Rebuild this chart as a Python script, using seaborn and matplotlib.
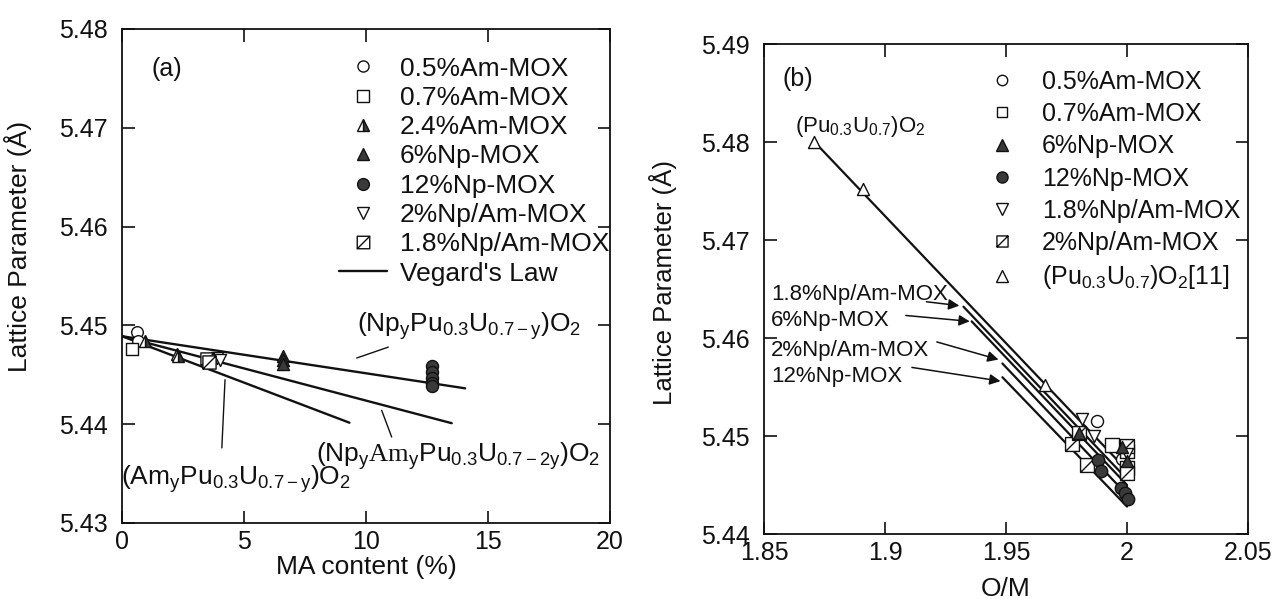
import numpy as np
import pandas as pd
import matplotlib
matplotlib.use("Agg")
import matplotlib.pyplot as plt
import seaborn as sns
from matplotlib.path import Path
from matplotlib.lines import Line2D

# ---------------- data: panel (a) -----------------
a_am05_x = [0.60, 0.67]
a_am05_y = [5.4493, 5.4484]
a_am07_x = [0.40]
a_am07_y = [5.4476]
a_am24_x = [0.94, 2.24, 2.30]
a_am24_y = [5.4484, 5.4471, 5.4469]
a_np6_x = [6.61, 6.61, 6.61]
a_np6_y = [5.4469, 5.4465, 5.4461]
a_np12_x = [12.69, 12.69, 12.69, 12.69, 12.69]
a_np12_y = [5.4459, 5.4453, 5.4447, 5.4442, 5.4439]
a_npam2_x = [3.88, 4.02]
a_npam2_y = [5.4467, 5.4465]
a_npam18_x = [3.47, 3.55]
a_npam18_y = [5.4466, 5.4463]

vegard_np_x = [0.0, 14.06]
vegard_np_y = [5.4489, 5.44363]
vegard_npam_x = [0.0, 13.51]
vegard_npam_y = [5.4489, 5.4401]
vegard_am_x = [0.0, 9.32]
vegard_am_y = [5.4489, 5.44015]

a_xticks = [0, 5, 10, 15, 20]
a_xticklabels = ["0", "5", "10", "15", "20"]
a_yticks = [5.43, 5.44, 5.45, 5.46, 5.47, 5.48]
a_yticklabels = ["5.43", "5.44", "5.45", "5.46", "5.47", "5.48"]

a_labels = ["0.5%Am-MOX", "0.7%Am-MOX", "2.4%Am-MOX", "6%Np-MOX",
            "12%Np-MOX", "2%Np/Am-MOX", "1.8%Np/Am-MOX", "Vegard's Law"]

# ---------------- data: panel (b) -----------------
b_am05_x = [1.9875, 1.998]
b_am05_y = [5.4515, 5.4477]
b_am07_x = [1.9937, 2.0, 2.0]
b_am07_y = [5.4491, 5.4485, 5.4467]
b_np6_x = [1.9803, 1.998, 2.0]
b_np6_y = [5.4503, 5.4489, 5.4475]
b_np12_x = [1.9881, 1.9891, 1.9975, 1.9992, 2.0003]
b_np12_y = [5.4476, 5.4464, 5.4447, 5.4442, 5.4436]
b_npam18_x = [1.9813, 1.9864, 2.0]
b_npam18_y = [5.4517, 5.4500, 5.4482]
b_npam2_x = [1.9772, 1.9803, 1.9834, 2.0, 2.0]
b_npam2_y = [5.4492, 5.4503, 5.4470, 5.4490, 5.4462]
b_puu_x = [1.8708, 1.891, 1.966, 2.0]
b_puu_y = [5.4800, 5.4752, 5.4552, 5.4488]

fit_puu_x = [1.8705, 2.0]
fit_puu_y = [5.4801, 5.4465]
fit_npam18_x = [1.9324, 2.0]
fit_npam18_y = [5.4632, 5.4456]
fit_np6_x = [1.9358, 2.0]
fit_np6_y = [5.4617, 5.4450]
fit_npam2_x = [1.9485, 2.0]
fit_npam2_y = [5.4574, 5.4440]
fit_np12_x = [1.9485, 2.0]
fit_np12_y = [5.4560, 5.4428]

b_xticks = [1.85, 1.9, 1.95, 2.0, 2.05]
b_xticklabels = ["1.85", "1.9", "1.95", "2", "2.05"]
b_yticks = [5.44, 5.45, 5.46, 5.47, 5.48, 5.49]
b_yticklabels = ["5.44", "5.45", "5.46", "5.47", "5.48", "5.49"]

b_labels = ["0.5%Am-MOX", "0.7%Am-MOX", "6%Np-MOX", "12%Np-MOX",
            "1.8%Np/Am-MOX", "2%Np/Am-MOX", r"(Pu$_{0.3}$U$_{0.7}$)O$_2$[11]"]

# ---------------- style -----------------
sns.set_theme(style="ticks")
plt.rcParams.update({
    "font.family": ["Liberation Sans", "DejaVu Sans"],
    "mathtext.fontset": "custom",
    "mathtext.rm": "Liberation Sans",
    "mathtext.it": "Liberation Sans",
    "mathtext.bf": "Liberation Sans:bold",
    "mathtext.tt": "Liberation Serif",
    "mathtext.default": "rm",
    "axes.linewidth": 1.3,
    "axes.edgecolor": "#111111",
})

INK = "#111111"
DARK = "#3a3a3a"

hatch_sq = Path([(-1, -1), (1, -1), (1, 1), (-1, 1), (-1, -1), (-1, -1), (1, 1)],
                [Path.MOVETO, Path.LINETO, Path.LINETO, Path.LINETO, Path.CLOSEPOLY,
                 Path.MOVETO, Path.LINETO])

fig = plt.figure(figsize=(12.86, 5.99), dpi=100)
fig.patch.set_facecolor("white")
axA = fig.add_axes([0.0949, 0.1269, 0.3795, 0.8247])
axB = fig.add_axes([0.5941, 0.1085, 0.3764, 0.8180])


def style_axes(ax, xt, xtl, yt, ytl, xlim, ylim):
    ax.set_xlim(*xlim)
    ax.set_ylim(*ylim)
    ax.set_xticks(xt)
    ax.set_xticklabels(xtl)
    ax.set_yticks(yt)
    ax.set_yticklabels(ytl)
    ax.tick_params(axis="both", which="major", direction="in", length=9, width=1.2,
                   top=True, right=True, labelsize=18, colors=INK)
    ax.tick_params(axis="x", pad=5)
    ax.tick_params(axis="y", pad=10)
    ax.set_facecolor("white")
    for s in ax.spines.values():
        s.set_visible(True)
        s.set_color(INK)
        s.set_linewidth(1.3)


def lines_df(pairs):
    rows = []
    for name, xs, ys in pairs:
        for x, y in zip(xs, ys):
            rows.append({"x": x, "y": y, "g": name})
    return pd.DataFrame(rows)


def scat(ax, xs, ys, marker, face, size, lw=1.0, z=3):
    sns.scatterplot(x=xs, y=ys, ax=ax, marker=marker, s=size, facecolor=face,
                    edgecolor=INK, linewidth=lw, zorder=z, legend=False)


# ================= panel (a) =================
dfA = lines_df([("np", vegard_np_x, vegard_np_y),
                ("npam", vegard_npam_x, vegard_npam_y),
                ("am", vegard_am_x, vegard_am_y)])
sns.lineplot(data=dfA, x="x", y="y", units="g", estimator=None, sort=False,
             color=INK, lw=1.7, ax=axA, legend=False, zorder=2)

scat(axA, a_am05_x, a_am05_y, "o", "white", 70)
scat(axA, a_am07_x, a_am07_y, "s", "white", 80)
axA.plot(a_am24_x, a_am24_y, ls="none", marker="^", ms=9, fillstyle="right",
         markerfacecolor=DARK, markerfacecoloralt="white", markeredgecolor=INK,
         markeredgewidth=1.0, zorder=3)
scat(axA, a_np6_x, a_np6_y, "^", DARK, 75)
scat(axA, a_np12_x, a_np12_y, "o", DARK, 75)
scat(axA, a_npam2_x, a_npam2_y, "v", "white", 75)
scat(axA, a_npam18_x, a_npam18_y, hatch_sq, "white", 90)

style_axes(axA, a_xticks, a_xticklabels, a_yticks, a_yticklabels, (0, 20), (5.43, 5.48))
axA.set_xlabel("MA content (%)", fontsize=19, color=INK)
axA.set_ylabel("Lattice Parameter (Å)", fontsize=19, color=INK)
axA.xaxis.set_label_coords(0.5, -0.064)
axA.yaxis.set_label_coords(-0.185, 0.56)

axA.text(1.83, 5.4752, "(a)", fontsize=18, ha="center", va="baseline", color=INK)
axA.text(14.24, 5.4494, r"(Np$_y$Pu$_{0.3}$U$_{0.7-y}$)O$_2$", fontsize=19,
         ha="center", va="baseline", color=INK)
axA.text(13.78, 5.4362, r"(Np$_y$$\mathtt{Am}$$_y$Pu$_{0.3}$U$_{0.7-2y}$)O$_2$", fontsize=19,
         ha="center", va="baseline", color=INK)
axA.text(4.68, 5.43385, r"(Am$_y$Pu$_{0.3}$U$_{0.7-y}$)O$_2$", fontsize=19,
         ha="center", va="baseline", color=INK)
for (x0, y0), (x1, y1) in [((10.91, 5.4478), (9.62, 5.4467)),
                           ((11.05, 5.4387), (10.64, 5.4414)),
                           ((4.09, 5.4376), (4.22, 5.4445))]:
    axA.annotate("", xy=(x1, y1), xytext=(x0, y0),
                 arrowprops=dict(arrowstyle="-", color=INK, lw=1.0,
                                 shrinkA=0, shrinkB=0))

hA = [
    Line2D([], [], ls="none", marker="o", ms=8, mfc="white", mec=INK, mew=1.0),
    Line2D([], [], ls="none", marker="s", ms=8.5, mfc="white", mec=INK, mew=1.0),
    Line2D([], [], ls="none", marker="^", ms=9, fillstyle="right", mfc=DARK,
           mfcalt="white", mec=INK, mew=1.0),
    Line2D([], [], ls="none", marker="^", ms=8.5, mfc=DARK, mec=INK, mew=1.0),
    Line2D([], [], ls="none", marker="o", ms=8.5, mfc=DARK, mec=INK, mew=1.0),
    Line2D([], [], ls="none", marker="v", ms=8.5, mfc="white", mec=INK, mew=1.0),
    Line2D([], [], ls="none", marker=hatch_sq, ms=9, mfc="white", mec=INK, mew=1.0),
    Line2D([], [], color=INK, lw=1.7),
]
legA = axA.legend(hA, a_labels, loc="upper left", bbox_to_anchor=(0.445, 0.944),
                  frameon=False, fontsize=19, handlelength=1.8, handletextpad=0.5,
                  labelspacing=0.2, borderpad=0, borderaxespad=0)
for t in legA.get_texts():
    t.set_color(INK)

# ================= panel (b) =================
dfB = lines_df([("puu", fit_puu_x, fit_puu_y),
                ("npam18", fit_npam18_x, fit_npam18_y),
                ("np6", fit_np6_x, fit_np6_y),
                ("npam2", fit_npam2_x, fit_npam2_y),
                ("np12", fit_np12_x, fit_np12_y)])
sns.lineplot(data=dfB, x="x", y="y", units="g", estimator=None, sort=False,
             color=INK, lw=1.6, ax=axB, legend=False, zorder=2)

scat(axB, b_puu_x, b_puu_y, "^", "white", 75)
scat(axB, b_am05_x, b_am05_y, "o", "white", 75)
scat(axB, b_am07_x, b_am07_y, "s", "white", 90)
scat(axB, b_npam2_x, b_npam2_y, hatch_sq, "white", 100)
scat(axB, b_npam18_x, b_npam18_y, "v", "white", 75)
scat(axB, b_np6_x, b_np6_y, "^", DARK, 75, z=4)
scat(axB, b_np12_x, b_np12_y, "o", DARK, 80, z=4)

style_axes(axB, b_xticks, b_xticklabels, b_yticks, b_yticklabels, (1.85, 2.05), (5.44, 5.49))
axB.set_xlabel("O/M", fontsize=19, color=INK)
axB.set_ylabel("Lattice Parameter (Å)", fontsize=18.5, color=INK)
axB.xaxis.set_label_coords(0.5, -0.088)
axB.yaxis.set_label_coords(-0.18, 0.513)

axB.text(1.8639, 5.4857, "(b)", fontsize=18, ha="center", va="baseline", color=INK)
axB.text(1.8626, 5.4810, r"(Pu$_{0.3}$U$_{0.7}$)O$_2$", fontsize=16,
         ha="left", va="baseline", color=INK)

arrow_labels = ["1.8%Np/Am-MOX", "6%Np-MOX", "2%Np/Am-MOX", "12%Np-MOX"]
arrow_text_y = [5.4639, 5.4612, 5.4582, 5.4555]
arrow_from = [(1.9171, 5.4637), (1.9086, 5.4623), (1.9214, 5.4596), (1.9111, 5.4570)]
arrow_to = [(1.9307, 5.4633), (1.9350, 5.4617), (1.9469, 5.4578), (1.9477, 5.4556)]
for lab, ty, (x0, y0), (x1, y1) in zip(arrow_labels, arrow_text_y, arrow_from, arrow_to):
    axB.text(1.8528, ty, lab, fontsize=16, ha="left", va="baseline", color=INK)
    axB.annotate("", xy=(x1, y1), xytext=(x0, y0),
                 arrowprops=dict(arrowstyle="-|>", color=INK, lw=1.1,
                                 mutation_scale=16, shrinkA=0, shrinkB=0))

hB = [
    Line2D([], [], ls="none", marker="o", ms=7.5, mfc="white", mec=INK, mew=1.0),
    Line2D([], [], ls="none", marker="s", ms=7.5, mfc="white", mec=INK, mew=1.0),
    Line2D([], [], ls="none", marker="^", ms=8, mfc=DARK, mec=INK, mew=1.0),
    Line2D([], [], ls="none", marker="o", ms=8, mfc=DARK, mec=INK, mew=1.0),
    Line2D([], [], ls="none", marker="v", ms=8, mfc="white", mec=INK, mew=1.0),
    Line2D([], [], ls="none", marker=hatch_sq, ms=8, mfc="white", mec=INK, mew=1.0),
    Line2D([], [], ls="none", marker="^", ms=8, mfc="white", mec=INK, mew=1.0),
]
legB = axB.legend(hB, b_labels, loc="upper left", bbox_to_anchor=(0.461, 0.947),
                  frameon=False, fontsize=18, handlelength=1.2, handletextpad=1.0,
                  labelspacing=0.33, borderpad=0, borderaxespad=0)
for t in legB.get_texts():
    t.set_color(INK)

fig.savefig("out.png", dpi=100, facecolor="white")
